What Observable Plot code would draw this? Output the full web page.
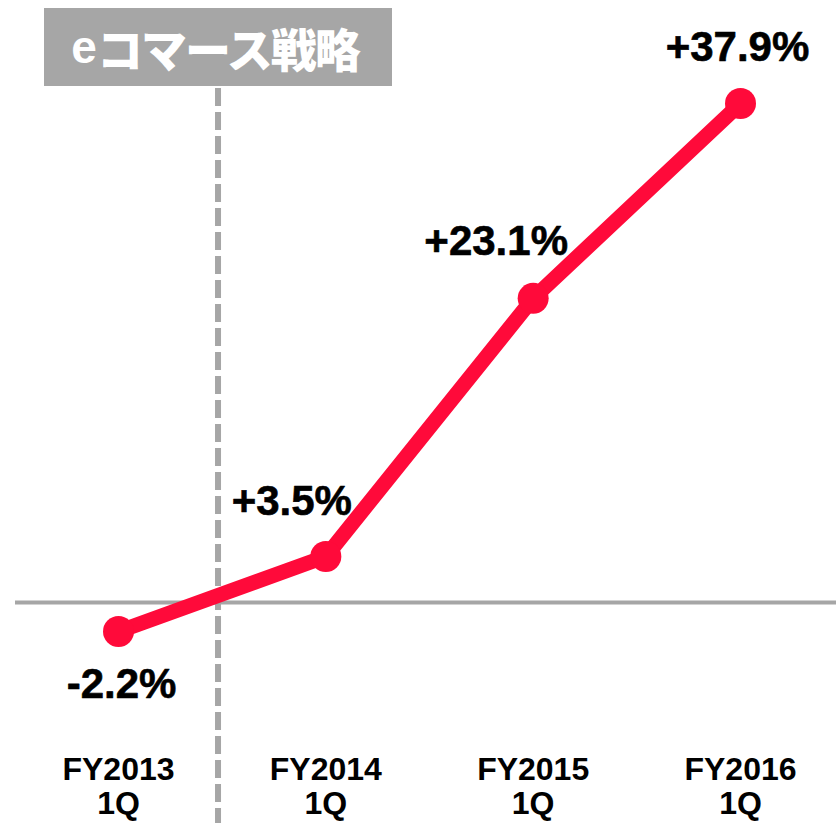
<!DOCTYPE html>
<html>
<head>
<meta charset="utf-8">
<script src="https://cdn.jsdelivr.net/npm/d3@7"></script>
<script src="https://cdn.jsdelivr.net/npm/@observablehq/plot@0.6"></script>
<style>
  html, body { margin: 0; padding: 0; background: #fff; }
  #wrap { position: relative; width: 836px; height: 823px; }
  #title {
    position: absolute; left: 44px; top: 8px; width: 348px; height: 78px;
    background: #a6a6a6; color: #fff;
    font-family: "Liberation Sans", "Noto Sans CJK JP", sans-serif;
    font-weight: bold; font-size: 46px;
    display: flex; align-items: center; justify-content: center;
    padding-right: 6px; box-sizing: border-box;
  }
  #title span.jp { font-family: "Noto Sans CJK JP", sans-serif; font-weight: 900; letter-spacing: -2px; }
</style>
</head>
<body>
<div id="wrap">
  <div id="chart"></div>
  <div id="title"><span>e</span><span class="jp">コマース戦略</span></div>
</div>
<script>
const titleText = "eコマース戦略";
const periods = ["FY2013\n1Q", "FY2014\n1Q", "FY2015\n1Q", "FY2016\n1Q"];
const growth = [-2.2, 3.5, 23.1, 37.9];
const dividerAt = 0.48; // boundary between FY2013 and FY2014 (index units)

const data = periods.map((p, i) => ({
  i, period: p, value: growth[i],
  label: (growth[i] > 0 ? "+" : "") + growth[i].toFixed(1) + "%"
}));

const red = "#ff0a3a";
const gray = "#a6a6a6";
const font = "'Liberation Sans', Arial, sans-serif";

const labelOffsets = [[3, 53], [-34, -55], [-37, -57], [-3, -56]];

const chart = Plot.plot({
  width: 836,
  height: 823,
  marginLeft: 15,
  marginRight: 0,
  marginTop: 88,
  marginBottom: 0,
  style: { background: "#fff", fontFamily: font, overflow: "visible" },
  x: { type: "linear", domain: [0, 3], range: [118, 740], label: null },
  y: { domain: [-2.2, 37.9], range: [631, 103], axis: null },
  marks: [
    Plot.ruleY([0], { stroke: gray, strokeWidth: 4 }),
    Plot.ruleX([dividerAt], { stroke: gray, strokeWidth: 6, strokeDasharray: "18,6" }),
    Plot.line(data, { x: "i", y: "value", stroke: red, strokeWidth: 15 }),
    Plot.dot(data, { x: "i", y: "value", r: 15.5, fill: red, stroke: "none" }),
    ...data.map((d, k) => Plot.text([d], {
      x: "i", y: "value", text: "label",
      dx: labelOffsets[k][0], dy: labelOffsets[k][1],
      fontSize: 42, fontWeight: "bold", fill: "#000",
      stroke: "#000", strokeWidth: 0.6
    })),
    Plot.axisX({
      ticks: [0, 1, 2, 3],
      tickFormat: (i) => periods[i],
      tickSize: 0,
      label: null,
      fontSize: 32,
      fontWeight: "bold",
      lineHeight: 1.06,
      lineAnchor: "bottom",
      dy: -19,
      fill: "#000",
      stroke: "#000",
      strokeWidth: 0.4
    })
  ]
});
document.getElementById("chart").appendChild(chart);
</script>
</body>
</html>
